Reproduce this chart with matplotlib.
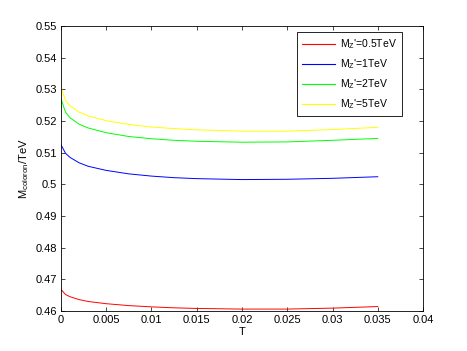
import matplotlib
matplotlib.use("Agg")
import matplotlib.pyplot as plt

plt.rcParams['font.family'] = ['Liberation Sans', 'DejaVu Sans']
plt.rcParams['mathtext.fontset'] = 'custom'
plt.rcParams['mathtext.rm'] = 'Liberation Sans'
plt.rcParams['mathtext.it'] = 'Liberation Sans'

T = [0, 0.0005, 0.001, 0.002, 0.003, 0.005, 0.0075, 0.01, 0.0125, 0.015, 0.02, 0.025, 0.03, 0.035]
m_05 = [0.4668, 0.4652, 0.4645, 0.4636, 0.4630, 0.4623, 0.4617, 0.4613, 0.4610, 0.4608, 0.4606, 0.4606, 0.4609, 0.4614]
m_1 = [0.5125, 0.5098, 0.5085, 0.5068, 0.5057, 0.5044, 0.5033, 0.5026, 0.5021, 0.5018, 0.5015, 0.5016, 0.5019, 0.5024]
m_2 = [0.5270, 0.5228, 0.5210, 0.5190, 0.5178, 0.5163, 0.5151, 0.5144, 0.5139, 0.5136, 0.5133, 0.5134, 0.5139, 0.5145]
m_5 = [0.5305, 0.5265, 0.5248, 0.5228, 0.5216, 0.5201, 0.5189, 0.5181, 0.5176, 0.5172, 0.5168, 0.5168, 0.5173, 0.5180]

labels = ["M$_{Z}$'=0.5TeV", "M$_{Z}$'=1TeV", "M$_{Z}$'=2TeV", "M$_{Z}$'=5TeV"]
colors = ["#ff0000", "#0000ff", "#00ff00", "#ffff00"]

fig = plt.figure(figsize=(4.67, 3.51), dpi=100)
ax = fig.add_axes([0.1306, 0.1140, 0.7752, 0.8119])

for ys, lab, c in zip([m_05, m_1, m_2, m_5], labels, colors):
    ax.plot(T, ys, color=c, lw=0.7, label=lab)

ax.set_xlim(0, 0.04)
ax.set_ylim(0.46, 0.55)
ax.set_xticks([0, 0.005, 0.01, 0.015, 0.02, 0.025, 0.03, 0.035, 0.04])
ax.set_xticklabels(["0", "0.005", "0.01", "0.015", "0.02", "0.025", "0.03", "0.035", "0.04"])
ax.set_yticks([0.46, 0.47, 0.48, 0.49, 0.5, 0.51, 0.52, 0.53, 0.54, 0.55])
ax.set_yticklabels(["0.46", "0.47", "0.48", "0.49", "0.5", "0.51", "0.52", "0.53", "0.54", "0.55"])
ax.tick_params(direction='in', top=True, right=True, labelsize=8, length=3, width=0.5, pad=3)
for s in ax.spines.values():
    s.set_linewidth(0.6)

ax.set_xlabel("T", fontsize=8, labelpad=1)
ax.set_ylabel("M$_{coloron}$/TeV", fontsize=8, labelpad=3)

leg = ax.legend(loc='upper right', bbox_to_anchor=(0.942, 0.979), fontsize=7.5,
                fancybox=False, edgecolor='black', framealpha=1, borderaxespad=0,
                handlelength=3.1, handletextpad=0.5, labelspacing=0.6, borderpad=0.5)
leg.get_frame().set_linewidth(0.6)
for h, c in zip(leg.get_lines(), colors):
    h.set_color(c)
    h.set_linewidth(0.8)

fig.savefig("out.png", dpi=100)
